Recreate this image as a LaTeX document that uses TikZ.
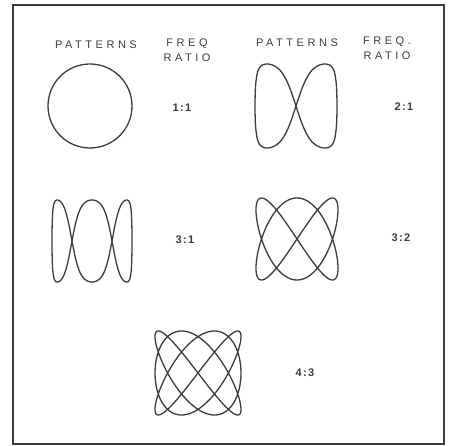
\documentclass[tikz,border=0pt]{standalone}
\usepackage{fontspec}
\setmainfont{Liberation Sans}
\usetikzlibrary{positioning}
\definecolor{ink}{HTML}{3C3C3C}

\begin{document}
\begin{tikzpicture}[x=1pt, y=-1pt,
    head/.style={font=\fontsize{11}{15}\selectfont\addfontfeature{LetterSpace=32}, text=ink, align=center, inner sep=0pt},
    ratio/.style={font=\fontsize{11}{12}\selectfont\bfseries\addfontfeature{LetterSpace=12}, text=ink, inner sep=0pt},
    curve/.style={draw=ink, line width=1.3pt, line join=round},
]
\useasboundingbox (0,0) rectangle (450,446);
\draw[ink, line width=1.8pt] (13,5) rectangle (444,444);

\node[head] (pat1) at (96,45) {PATTERNS};
\node[head] (freq1) at (187,50) {FREQ\\RATIO};
\node[head] (pat2) at (297,43) {PATTERNS};
\node[head] (freq2) at (387,48) {FREQ.\\RATIO};

\node[ratio] (r11) at (182,108) {1:1};
\node[ratio] (r21) at (404,107) {2:1};
\node[ratio] (r31) at (185,240) {3:1};
\node[ratio] (r32) at (401,238) {3:2};
\node[ratio] (r43) at (305,373) {4:3};

\draw[curve] (90,106) circle[radius=42pt];
\draw[curve] plot[variable=\t, domain=0:360, samples=240, smooth]
    ({296+41*sin(\t)}, {106+42*tanh(1.3*sin(2*\t))/tanh(1.3)}) -- cycle;
\draw[curve] plot[variable=\t, domain=0:360, samples=300, smooth]
    ({92+40*sin(\t)}, {241+41*tanh(1.3*cos(3*\t))/tanh(1.3)}) -- cycle;
\draw[curve] plot[variable=\t, domain=0:360, samples=360, smooth]
    ({297+41*sin(2*\t)}, {239+41*sin(3*\t)}) -- cycle;
\draw[curve] plot[variable=\t, domain=0:360, samples=480, smooth]
    ({198+43*sin(3*\t)}, {373+42*sin(4*\t)}) -- cycle;
\end{tikzpicture}
\end{document}
